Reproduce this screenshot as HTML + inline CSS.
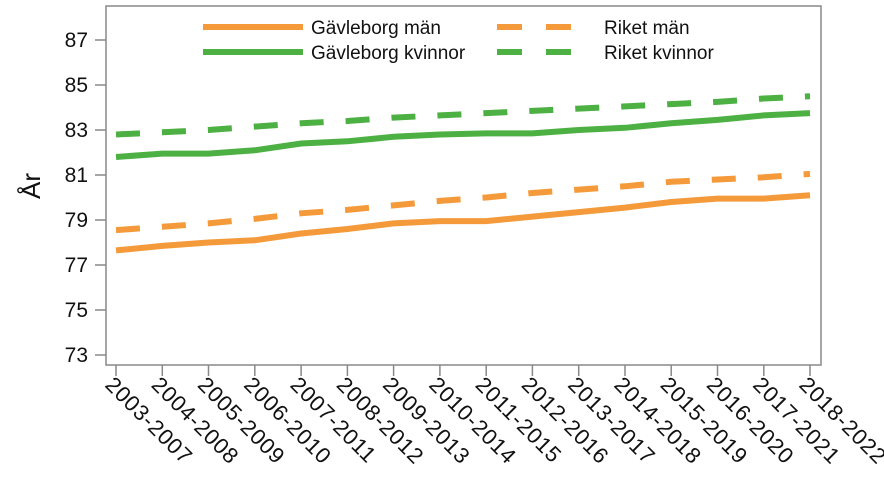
<!DOCTYPE html>
<html><head><meta charset="utf-8"><style>body{margin:0;background:#fff}svg{display:block}text{font-family:"Liberation Sans",sans-serif;fill:#111}</style></head>
<body>
<svg width="884" height="486" viewBox="0 0 884 486">
<rect x="106" y="6" width="715" height="359" fill="none" stroke="#888" stroke-width="1.5"/>
<g stroke="#888" stroke-width="1.5">
<line x1="95" y1="40" x2="106" y2="40"/><line x1="95" y1="85" x2="106" y2="85"/><line x1="95" y1="130" x2="106" y2="130"/><line x1="95" y1="175" x2="106" y2="175"/><line x1="95" y1="220" x2="106" y2="220"/><line x1="95" y1="265" x2="106" y2="265"/><line x1="95" y1="310" x2="106" y2="310"/><line x1="95" y1="355" x2="106" y2="355"/>
<line x1="116" y1="365" x2="116" y2="376"/><line x1="162.3" y1="365" x2="162.3" y2="376"/><line x1="208.5" y1="365" x2="208.5" y2="376"/><line x1="254.8" y1="365" x2="254.8" y2="376"/><line x1="301.1" y1="365" x2="301.1" y2="376"/><line x1="347.4" y1="365" x2="347.4" y2="376"/><line x1="393.6" y1="365" x2="393.6" y2="376"/><line x1="439.9" y1="365" x2="439.9" y2="376"/><line x1="486.2" y1="365" x2="486.2" y2="376"/><line x1="532.4" y1="365" x2="532.4" y2="376"/><line x1="578.7" y1="365" x2="578.7" y2="376"/><line x1="625" y1="365" x2="625" y2="376"/><line x1="671.2" y1="365" x2="671.2" y2="376"/><line x1="717.5" y1="365" x2="717.5" y2="376"/><line x1="763.8" y1="365" x2="763.8" y2="376"/><line x1="810" y1="365" x2="810" y2="376"/>
</g>
<g font-size="21" text-anchor="end">
<text x="88" y="47">87</text><text x="88" y="92">85</text><text x="88" y="137">83</text><text x="88" y="182">81</text><text x="88" y="227">79</text><text x="88" y="272">77</text><text x="88" y="317">75</text><text x="88" y="362">73</text>
</g>
<text font-size="26" transform="translate(40,186) rotate(-90)" text-anchor="middle">År</text>
<g font-size="22" letter-spacing="0.8">
<text transform="translate(104,386) rotate(45)">2003-2007</text>
<text transform="translate(150.3,386) rotate(45)">2004-2008</text>
<text transform="translate(196.5,386) rotate(45)">2005-2009</text>
<text transform="translate(242.8,386) rotate(45)">2006-2010</text>
<text transform="translate(289.1,386) rotate(45)">2007-2011</text>
<text transform="translate(335.4,386) rotate(45)">2008-2012</text>
<text transform="translate(381.6,386) rotate(45)">2009-2013</text>
<text transform="translate(427.9,386) rotate(45)">2010-2014</text>
<text transform="translate(474.2,386) rotate(45)">2011-2015</text>
<text transform="translate(520.4,386) rotate(45)">2012-2016</text>
<text transform="translate(566.7,386) rotate(45)">2013-2017</text>
<text transform="translate(613,386) rotate(45)">2014-2018</text>
<text transform="translate(659.2,386) rotate(45)">2015-2019</text>
<text transform="translate(705.5,386) rotate(45)">2016-2020</text>
<text transform="translate(751.8,386) rotate(45)">2017-2021</text>
<text transform="translate(798,386) rotate(45)">2018-2022</text>
</g>
<g fill="none" stroke-width="6">
<polyline stroke="#4cb043" stroke-dasharray="24 22" points="116,134.5 162.3,132.3 208.5,130 254.8,126.6 301.1,123.3 347.4,121 393.6,117.6 439.9,115.4 486.2,113.1 532.4,110.9 578.7,108.6 625,106.4 671.2,104.1 717.5,101.9 763.8,98.5 810,96.3"/>
<polyline stroke="#4cb043" points="116,157 162.3,153.6 208.5,153.6 254.8,150.3 301.1,143.5 347.4,141.3 393.6,136.8 439.9,134.5 486.2,133.4 532.4,133.4 578.7,130 625,127.8 671.2,123.3 717.5,119.9 763.8,115.4 810,113.1"/>
<polyline stroke="#f49a3a" stroke-dasharray="24 22" points="116,230.1 162.3,226.8 208.5,223.4 254.8,218.9 301.1,213.3 347.4,209.9 393.6,205.4 439.9,200.9 486.2,197.5 532.4,193 578.7,189.6 625,186.3 671.2,181.8 717.5,179.5 763.8,177.3 810,173.9"/>
<polyline stroke="#f49a3a" points="116,250.4 162.3,245.9 208.5,242.5 254.8,240.3 301.1,233.5 347.4,229 393.6,223.4 439.9,221.1 486.2,221.1 532.4,216.6 578.7,212.1 625,207.6 671.2,202 717.5,198.6 763.8,198.6 810,195.3"/>
</g>
<line x1="203" y1="27" x2="303" y2="27" stroke="#f49a3a" stroke-width="6"/>
<line x1="203" y1="52" x2="303" y2="52" stroke="#4cb043" stroke-width="6"/>
<line x1="497" y1="27" x2="571" y2="27" stroke="#f49a3a" stroke-width="6" stroke-dasharray="25 24"/>
<line x1="497" y1="52" x2="571" y2="52" stroke="#4cb043" stroke-width="6" stroke-dasharray="25 24"/>
<g font-size="19"><text x="311" y="34">Gävleborg män</text><text x="311" y="59">Gävleborg kvinnor</text><text x="604" y="34">Riket män</text><text x="604" y="59">Riket kvinnor</text></g>
</svg>
</body></html>
